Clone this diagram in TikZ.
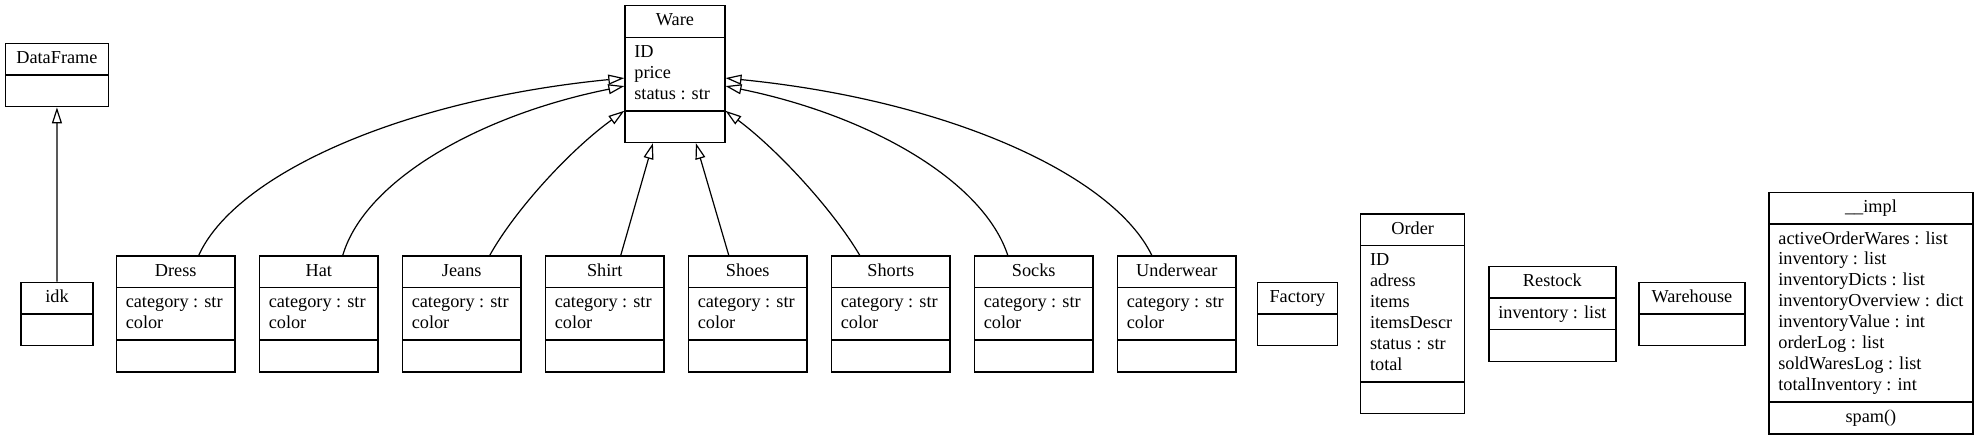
\documentclass[tikz,border=0pt]{standalone}
\usepackage{fontspec}
\setmainfont{Liberation Serif}
\usetikzlibrary{shapes.multipart, arrows.meta, calc}

\newcommand{\attrlist}[1]{\begin{tabular}{@{}l@{}}#1\end{tabular}}

\begin{document}
\begin{tikzpicture}[x=0.75pt, y=-0.75pt,
  umlclass/.style={draw, line width=1.1pt, rectangle split, rectangle split parts=3,
    rectangle split part align={center,left,center}, anchor=north west,
    inner xsep=7pt, inner ysep=3.45pt, font=\fontsize{13.7}{15.7}\selectfont},
  umlplain/.style={umlclass, rectangle split parts=2,
    rectangle split part align={center,center}},
  inherit/.style={-{Triangle[open, length=12pt, width=7.5pt]}, line width=0.9pt}]
  \useasboundingbox (0,0) rectangle (1977,440);

  % Base classes
  \node[umlplain, minimum width=77.25pt] (dataframe) at (4.7,42.7)
    {\strut DataFrame \nodepart{two}\strut};
  \node[umlclass, minimum width=74.8pt] (ware) at (624.3,5)
    {\strut Ware \nodepart{two}\attrlist{ID\\price\\status : str} \nodepart{three}\strut};

  % Subclasses
  \node[umlplain, minimum width=54pt] (idk) at (20.3,281.7)
    {\strut idk \nodepart{two}\strut};
  \node[umlclass, minimum width=89pt] (dress) at (115.7,255.3)
    {\strut Dress \nodepart{two}\attrlist{category : str\\color} \nodepart{three}\strut};
  \node[umlclass, minimum width=89pt] (hat) at (258.7,255.3)
    {\strut Hat \nodepart{two}\attrlist{category : str\\color} \nodepart{three}\strut};
  \node[umlclass, minimum width=89pt] (jeans) at (401.7,255.3)
    {\strut Jeans \nodepart{two}\attrlist{category : str\\color} \nodepart{three}\strut};
  \node[umlclass, minimum width=89pt] (shirt) at (544.7,255.3)
    {\strut Shirt \nodepart{two}\attrlist{category : str\\color} \nodepart{three}\strut};
  \node[umlclass, minimum width=89pt] (shoes) at (687.7,255.3)
    {\strut Shoes \nodepart{two}\attrlist{category : str\\color} \nodepart{three}\strut};
  \node[umlclass, minimum width=89pt] (shorts) at (830.7,255.3)
    {\strut Shorts \nodepart{two}\attrlist{category : str\\color} \nodepart{three}\strut};
  \node[umlclass, minimum width=89pt] (socks) at (973.7,255.3)
    {\strut Socks \nodepart{two}\attrlist{category : str\\color} \nodepart{three}\strut};
  \node[umlclass, minimum width=89pt] (underwear) at (1116.7,255.3)
    {\strut Underwear \nodepart{two}\attrlist{category : str\\color} \nodepart{three}\strut};

  % Standalone classes
  \node[umlplain, minimum width=60pt] (factory) at (1256.7,281.7)
    {\strut Factory \nodepart{two}\strut};
  \node[umlclass, minimum width=78pt] (order) at (1360,213.3)
    {\strut Order \nodepart{two}\attrlist{ID\\adress\\items\\itemsDescr\\status : str\\total}
     \nodepart{three}\strut};
  \node[umlclass, minimum width=94.3pt] (restock) at (1488.3,265.7)
    {\strut Restock \nodepart{two}\attrlist{inventory : list} \nodepart{three}\strut};
  \node[umlplain, minimum width=79.3pt] (warehouse) at (1638.3,281.7)
    {\strut Warehouse \nodepart{two}\strut};
  \node[umlclass, minimum width=152pt] (impl) at (1768.3,191.7)
    {\strut \_\_impl \nodepart{two}\attrlist{activeOrderWares : list\\inventory : list\\
     inventoryDicts : list\\inventoryOverview : dict\\inventoryValue : int\\orderLog : list\\
     soldWaresLog : list\\totalInventory : int} \nodepart{three}\strut spam()};

  % Inheritance
  \draw[inherit] (idk.north) -- (dataframe.south);

  \draw[inherit] ($(dress.north)+(23,0)$) .. controls (235,175) and (400,100) .. ($(ware.west)+(0,4)$);
  \draw[inherit] ($(hat.north)+(24,0)$) .. controls (365,180) and (480,115) .. ($(ware.west)+(0,12)$);
  \draw[inherit] ($(jeans.north)+(28,0)$) .. controls (515,210) and (570,150) .. (ware.two split west);
  \draw[inherit] ($(shirt.north)+(16,0)$) -- ($(ware.south)+(-22,0)$);
  \draw[inherit] ($(shoes.north)+(-19,0)$) -- ($(ware.south)+(21,0)$);
  \draw[inherit] ($(shorts.north)+(-31,0)$) .. controls (833,210) and (778,150) .. (ware.two split east);
  \draw[inherit] ($(socks.north)+(-26,0)$) .. controls (983,180) and (868,115) .. ($(ware.east)+(0,12)$);
  \draw[inherit] ($(underwear.north)+(-25,0)$) .. controls (1113,175) and (948,100) .. ($(ware.east)+(0,4)$);

\end{tikzpicture}
\end{document}
